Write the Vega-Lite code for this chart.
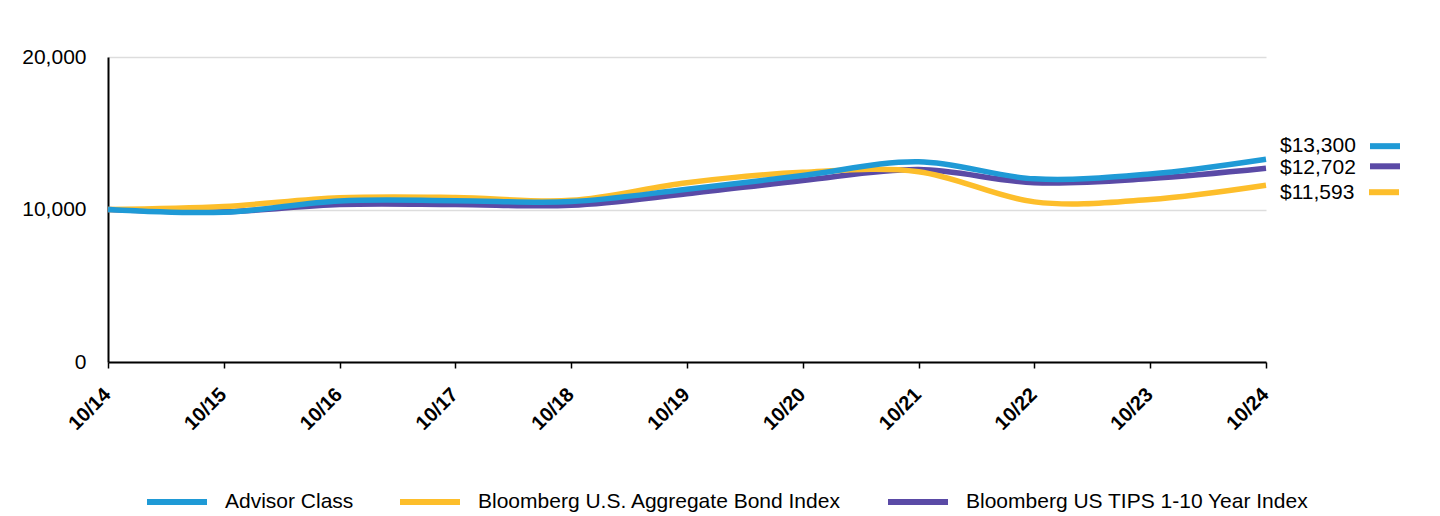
{
  "$schema": "https://vega.github.io/schema/vega-lite/v6.json",
  "autosize": {"type": "none"},
  "width": 1158,
  "height": 305,
  "padding": {"left": 108, "top": 57, "right": 174, "bottom": 154},
  "background": "white",
  "config": {
    "font": "Liberation Sans",
    "view": {"stroke": null}
  },
  "datasets": {
    "d": [
      {"date": "10/14", "series": "Bloomberg US TIPS 1-10 Year Index", "value": 10000},
      {"date": "10/15", "series": "Bloomberg US TIPS 1-10 Year Index", "value": 9850},
      {"date": "10/16", "series": "Bloomberg US TIPS 1-10 Year Index", "value": 10330},
      {"date": "10/17", "series": "Bloomberg US TIPS 1-10 Year Index", "value": 10330},
      {"date": "10/18", "series": "Bloomberg US TIPS 1-10 Year Index", "value": 10280},
      {"date": "10/19", "series": "Bloomberg US TIPS 1-10 Year Index", "value": 11030},
      {"date": "10/20", "series": "Bloomberg US TIPS 1-10 Year Index", "value": 11900},
      {"date": "10/21", "series": "Bloomberg US TIPS 1-10 Year Index", "value": 12620},
      {"date": "10/22", "series": "Bloomberg US TIPS 1-10 Year Index", "value": 11760},
      {"date": "10/23", "series": "Bloomberg US TIPS 1-10 Year Index", "value": 12030},
      {"date": "10/24", "series": "Bloomberg US TIPS 1-10 Year Index", "value": 12702},
      {"date": "10/14", "series": "Bloomberg U.S. Aggregate Bond Index", "value": 10000},
      {"date": "10/15", "series": "Bloomberg U.S. Aggregate Bond Index", "value": 10200},
      {"date": "10/16", "series": "Bloomberg U.S. Aggregate Bond Index", "value": 10770},
      {"date": "10/17", "series": "Bloomberg U.S. Aggregate Bond Index", "value": 10790},
      {"date": "10/18", "series": "Bloomberg U.S. Aggregate Bond Index", "value": 10600},
      {"date": "10/19", "series": "Bloomberg U.S. Aggregate Bond Index", "value": 11760},
      {"date": "10/20", "series": "Bloomberg U.S. Aggregate Bond Index", "value": 12440},
      {"date": "10/21", "series": "Bloomberg U.S. Aggregate Bond Index", "value": 12480},
      {"date": "10/22", "series": "Bloomberg U.S. Aggregate Bond Index", "value": 10500},
      {"date": "10/23", "series": "Bloomberg U.S. Aggregate Bond Index", "value": 10660},
      {"date": "10/24", "series": "Bloomberg U.S. Aggregate Bond Index", "value": 11593},
      {"date": "10/14", "series": "Advisor Class", "value": 10000},
      {"date": "10/15", "series": "Advisor Class", "value": 9820},
      {"date": "10/16", "series": "Advisor Class", "value": 10560},
      {"date": "10/17", "series": "Advisor Class", "value": 10580},
      {"date": "10/18", "series": "Advisor Class", "value": 10520},
      {"date": "10/19", "series": "Advisor Class", "value": 11330},
      {"date": "10/20", "series": "Advisor Class", "value": 12230},
      {"date": "10/21", "series": "Advisor Class", "value": 13130},
      {"date": "10/22", "series": "Advisor Class", "value": 12010},
      {"date": "10/23", "series": "Advisor Class", "value": 12330},
      {"date": "10/24", "series": "Advisor Class", "value": 13300}
    ]
  },
  "data": {"name": "d"},
  "encoding": {
    "x": {
      "field": "date", "type": "ordinal", "sort": null,
      "scale": {"type": "point", "padding": 0},
      "axis": {
        "title": null, "labelAngle": -45, "labelAlign": "right", "labelBaseline": "top",
        "labelFontSize": 20, "labelFontWeight": "bold", "labelColor": "black",
        "domainColor": "black", "domainWidth": 2, "tickColor": "black", "tickWidth": 1.5, "tickSize": 6,
        "labelPadding": 16, "labelOffset": -8, "grid": false
      }
    },
    "y": {
      "field": "value", "type": "quantitative",
      "scale": {"domain": [0, 20000], "nice": false, "zero": true},
      "axis": {
        "title": null, "values": [0, 10000, 20000], "format": ",.0f",
        "labelFontSize": 21, "labelColor": "black", "labelPadding": 22,
        "ticks": false, "domainColor": "black", "domainWidth": 2,
        "grid": true, "gridColor": "#dddddd", "gridWidth": 1.5
      }
    }
  },
  "layer": [
    {
      "mark": {"type": "line", "strokeWidth": 5.5, "interpolate": "cardinal"},
      "encoding": {
        "color": {
          "field": "series", "type": "nominal",
          "scale": {
            "domain": ["Advisor Class", "Bloomberg U.S. Aggregate Bond Index", "Bloomberg US TIPS 1-10 Year Index"],
            "range": ["#1f9ad6", "#fdbe2b", "#5a4aa6"]
          },
          "legend": {
            "title": null, "orient": "none", "direction": "horizontal",
            "legendX": 36, "legendY": 412,
            "symbolType": "stroke", "symbolSize": 3600, "symbolStrokeWidth": 6,
            "labelFontSize": 21, "labelColor": "black", "labelOffset": 15,
            "columnPadding": 34, "labelLimit": 500
          }
        }
      }
    },
    {
      "transform": [{"filter": "datum.date == '10/24' && datum.series == 'Advisor Class'"}],
      "mark": {"type": "text", "align": "left", "baseline": "middle", "dx": 14, "dy": -13, "fontSize": 21, "color": "black"},
      "encoding": {"text": {"field": "value", "type": "quantitative", "format": "$,.0f"}}
    },
    {
      "transform": [{"filter": "datum.date == '10/24' && datum.series == 'Bloomberg US TIPS 1-10 Year Index'"}],
      "mark": {"type": "text", "align": "left", "baseline": "middle", "dx": 14, "dy": 0, "fontSize": 21, "color": "black"},
      "encoding": {"text": {"field": "value", "type": "quantitative", "format": "$,.0f"}}
    },
    {
      "transform": [{"filter": "datum.date == '10/24' && datum.series == 'Bloomberg U.S. Aggregate Bond Index'"}],
      "mark": {"type": "text", "align": "left", "baseline": "middle", "dx": 14, "dy": 8, "fontSize": 21, "color": "black"},
      "encoding": {"text": {"field": "value", "type": "quantitative", "format": "$,.0f"}}
    },
    {
      "transform": [{"filter": "datum.date == '10/24' && datum.series == 'Advisor Class'"}],
      "mark": {"type": "point", "shape": "M-1,0L1,0", "size": 900, "strokeWidth": 6, "filled": false, "opacity": 1, "xOffset": 119, "yOffset": -13, "color": "#1f9ad6", "strokeCap": "butt"},
      "encoding": {}
    },
    {
      "transform": [{"filter": "datum.date == '10/24' && datum.series == 'Bloomberg US TIPS 1-10 Year Index'"}],
      "mark": {"type": "point", "shape": "M-1,0L1,0", "size": 900, "strokeWidth": 6, "filled": false, "opacity": 1, "xOffset": 119, "yOffset": -2, "color": "#5a4aa6", "strokeCap": "butt"},
      "encoding": {}
    },
    {
      "transform": [{"filter": "datum.date == '10/24' && datum.series == 'Bloomberg U.S. Aggregate Bond Index'"}],
      "mark": {"type": "point", "shape": "M-1,0L1,0", "size": 900, "strokeWidth": 6, "filled": false, "opacity": 1, "xOffset": 118, "yOffset": 7, "color": "#fdbe2b", "strokeCap": "butt"},
      "encoding": {}
    }
  ]
}
